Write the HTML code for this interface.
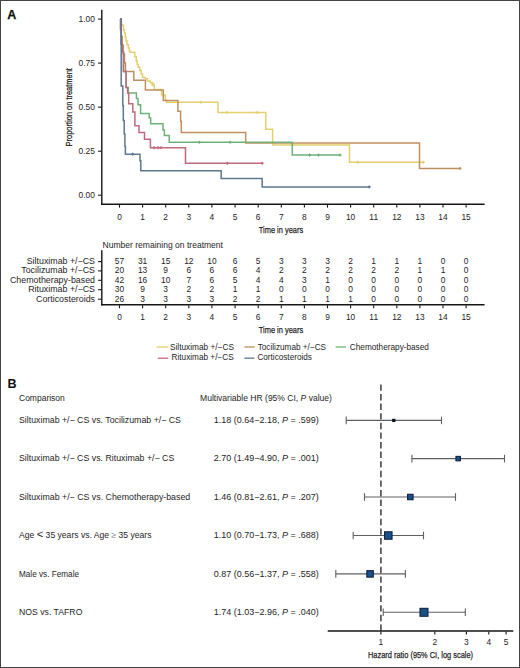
<!DOCTYPE html>
<html><head><meta charset="utf-8"><title>Figure</title>
<style>
html,body{margin:0;padding:0;background:#fff;}
body{width:520px;height:668px;overflow:hidden;position:relative;}
.frame{position:absolute;left:0;top:0;width:518px;height:666px;border:1px solid #444;}
svg{position:absolute;left:0;top:0;}
text{font-family:"Liberation Sans", sans-serif;}
</style></head><body>
<div class="frame"></div>
<svg width="520" height="668" viewBox="0 0 520 668" font-family='"Liberation Sans", sans-serif'>
<text x="7.2" y="18.5" font-size="13.4" font-weight="bold" fill="#111" stroke="#111" stroke-width="0.25" textLength="9.0" lengthAdjust="spacingAndGlyphs">A</text>
<line x1="101.8" y1="9.8" x2="101.8" y2="204.9" stroke="#161616" stroke-width="1.4"/>
<line x1="101.1" y1="204.15" x2="484.6" y2="204.15" stroke="#161616" stroke-width="1.5"/>
<line x1="98.1" y1="19.1" x2="101.5" y2="19.1" stroke="#161616" stroke-width="1.1"/>
<text x="94.8" y="22.1" font-size="8.4" text-anchor="end" fill="#1e1e1e">1.00</text>
<line x1="98.1" y1="63.1" x2="101.5" y2="63.1" stroke="#161616" stroke-width="1.1"/>
<text x="94.8" y="66.1" font-size="8.4" text-anchor="end" fill="#1e1e1e">0.75</text>
<line x1="98.1" y1="107.15" x2="101.5" y2="107.15" stroke="#161616" stroke-width="1.1"/>
<text x="94.8" y="110.2" font-size="8.4" text-anchor="end" fill="#1e1e1e">0.50</text>
<line x1="98.1" y1="151.2" x2="101.5" y2="151.2" stroke="#161616" stroke-width="1.1"/>
<text x="94.8" y="154.2" font-size="8.4" text-anchor="end" fill="#1e1e1e">0.25</text>
<line x1="98.1" y1="195.2" x2="101.5" y2="195.2" stroke="#161616" stroke-width="1.1"/>
<text x="94.8" y="198.2" font-size="8.4" text-anchor="end" fill="#1e1e1e">0.00</text>
<line x1="119.5" y1="204.5" x2="119.5" y2="207.6" stroke="#161616" stroke-width="1.1"/>
<text x="119.5" y="219.6" font-size="8.4" text-anchor="middle" fill="#1e1e1e">0</text>
<line x1="142.6" y1="204.5" x2="142.6" y2="207.6" stroke="#161616" stroke-width="1.1"/>
<text x="142.6" y="219.6" font-size="8.4" text-anchor="middle" fill="#1e1e1e">1</text>
<line x1="165.7" y1="204.5" x2="165.7" y2="207.6" stroke="#161616" stroke-width="1.1"/>
<text x="165.7" y="219.6" font-size="8.4" text-anchor="middle" fill="#1e1e1e">2</text>
<line x1="188.8" y1="204.5" x2="188.8" y2="207.6" stroke="#161616" stroke-width="1.1"/>
<text x="188.8" y="219.6" font-size="8.4" text-anchor="middle" fill="#1e1e1e">3</text>
<line x1="211.9" y1="204.5" x2="211.9" y2="207.6" stroke="#161616" stroke-width="1.1"/>
<text x="211.9" y="219.6" font-size="8.4" text-anchor="middle" fill="#1e1e1e">4</text>
<line x1="235.1" y1="204.5" x2="235.1" y2="207.6" stroke="#161616" stroke-width="1.1"/>
<text x="235.1" y="219.6" font-size="8.4" text-anchor="middle" fill="#1e1e1e">5</text>
<line x1="258.2" y1="204.5" x2="258.2" y2="207.6" stroke="#161616" stroke-width="1.1"/>
<text x="258.2" y="219.6" font-size="8.4" text-anchor="middle" fill="#1e1e1e">6</text>
<line x1="281.3" y1="204.5" x2="281.3" y2="207.6" stroke="#161616" stroke-width="1.1"/>
<text x="281.3" y="219.6" font-size="8.4" text-anchor="middle" fill="#1e1e1e">7</text>
<line x1="304.4" y1="204.5" x2="304.4" y2="207.6" stroke="#161616" stroke-width="1.1"/>
<text x="304.4" y="219.6" font-size="8.4" text-anchor="middle" fill="#1e1e1e">8</text>
<line x1="327.5" y1="204.5" x2="327.5" y2="207.6" stroke="#161616" stroke-width="1.1"/>
<text x="327.5" y="219.6" font-size="8.4" text-anchor="middle" fill="#1e1e1e">9</text>
<line x1="350.6" y1="204.5" x2="350.6" y2="207.6" stroke="#161616" stroke-width="1.1"/>
<text x="350.6" y="219.6" font-size="8.4" text-anchor="middle" fill="#1e1e1e">10</text>
<line x1="373.7" y1="204.5" x2="373.7" y2="207.6" stroke="#161616" stroke-width="1.1"/>
<text x="373.7" y="219.6" font-size="8.4" text-anchor="middle" fill="#1e1e1e">11</text>
<line x1="396.8" y1="204.5" x2="396.8" y2="207.6" stroke="#161616" stroke-width="1.1"/>
<text x="396.8" y="219.6" font-size="8.4" text-anchor="middle" fill="#1e1e1e">12</text>
<line x1="419.9" y1="204.5" x2="419.9" y2="207.6" stroke="#161616" stroke-width="1.1"/>
<text x="419.9" y="219.6" font-size="8.4" text-anchor="middle" fill="#1e1e1e">13</text>
<line x1="443.0" y1="204.5" x2="443.0" y2="207.6" stroke="#161616" stroke-width="1.1"/>
<text x="443.0" y="219.6" font-size="8.4" text-anchor="middle" fill="#1e1e1e">14</text>
<line x1="466.1" y1="204.5" x2="466.1" y2="207.6" stroke="#161616" stroke-width="1.1"/>
<text x="466.1" y="219.6" font-size="8.4" text-anchor="middle" fill="#1e1e1e">15</text>
<text x="258.8" y="232.7" font-size="9.8" textLength="44.3" lengthAdjust="spacingAndGlyphs" fill="#1e1e1e" stroke="#1e1e1e" stroke-width="0.25">Time in years</text>
<text transform="translate(71.8,146.4) rotate(-90)" x="0" y="0" font-size="9.8" textLength="78.3" lengthAdjust="spacingAndGlyphs" fill="#1e1e1e" stroke="#1e1e1e" stroke-width="0.25">Proportion on treatment</text>
<path d="M120,19.1H120.8V21H121.5V24.8H122.7V25.5H123.6V30H124.4V33H125.2V37H126V41H127V44.8H128.3V48H129.3V51H130.2V52.3H134.8V56.5H136.2V61H137.2V64.5H138.2V67.2H139.7V70.5H141.2V74H142.6V77.5H145.5V78.7H147.5V81H150.4V82.8H152.7V84.6H154.2V89.6H161.5V94.9H165.4V100H166.5V102.3H218V112.5H265.7V129.2H272.6V145H349.5V162.3H423.4" fill="none" stroke="#e2d06e" stroke-width="1.5"/>
<path d="M120,19.1H120.6V27.4H121.3V36.3H122.3V45.1H123.3V53.9H124.5V62.8H125.5V71.4H133.8V80.3H145.4V90.1H163.3V100.4H177.9V111.2H180.6V121.3H181.3V132.6H245.7V142.9H419.5V168.5H460" fill="none" stroke="#bf8f60" stroke-width="1.5"/>
<path d="M120,19.1H120.6V30H121.2V44H122.2V52H123.5V71.5H126.1V87.4H128.3V93H136.4V98.4H138V104.7H140.6V113.6H149.2V118H150.7V123.7H163V130H164.4V135.5H169.2V142.3H292.3V155.1H340" fill="none" stroke="#6db378" stroke-width="1.5"/>
<path d="M120,19.1H120.6V30H121.2V44H122.2V52H123.5V71.5H126.1V87.4H127.6V93H128.7V103.8H132.8V112H134.9V125.8H139V132.5H144.5V139.3H150.4V147.7H185.5V163.3H262.2" fill="none" stroke="#c06a80" stroke-width="1.5"/>
<path d="M120,19.1H121.2V86H122.8V105.7H123.3V120.4H124.2V134H124.9V146.6H125.4V154.2H140V160.8H140.8V170.8H221.2V178.5H262.2V186.9H369.2" fill="none" stroke="#5f7892" stroke-width="1.5"/>
<line x1="152.7" y1="83.0" x2="152.7" y2="86.19999999999999" stroke="#e2d06e" stroke-width="1"/>
<line x1="151.29999999999998" y1="84.6" x2="154.1" y2="84.6" stroke="#e2d06e" stroke-width="1.6"/>
<line x1="200.8" y1="100.7" x2="200.8" y2="103.89999999999999" stroke="#e2d06e" stroke-width="1"/>
<line x1="199.4" y1="102.3" x2="202.20000000000002" y2="102.3" stroke="#e2d06e" stroke-width="1.6"/>
<line x1="227" y1="110.9" x2="227" y2="114.1" stroke="#e2d06e" stroke-width="1"/>
<line x1="225.6" y1="112.5" x2="228.4" y2="112.5" stroke="#e2d06e" stroke-width="1.6"/>
<line x1="257" y1="110.9" x2="257" y2="114.1" stroke="#e2d06e" stroke-width="1"/>
<line x1="255.6" y1="112.5" x2="258.4" y2="112.5" stroke="#e2d06e" stroke-width="1.6"/>
<line x1="357.7" y1="160.70000000000002" x2="357.7" y2="163.9" stroke="#e2d06e" stroke-width="1"/>
<line x1="356.3" y1="162.3" x2="359.09999999999997" y2="162.3" stroke="#e2d06e" stroke-width="1.6"/>
<line x1="423.4" y1="160.70000000000002" x2="423.4" y2="163.9" stroke="#e2d06e" stroke-width="1"/>
<line x1="422.0" y1="162.3" x2="424.79999999999995" y2="162.3" stroke="#e2d06e" stroke-width="1.6"/>
<line x1="199.2" y1="140.70000000000002" x2="199.2" y2="143.9" stroke="#6db378" stroke-width="1"/>
<line x1="197.79999999999998" y1="142.3" x2="200.6" y2="142.3" stroke="#6db378" stroke-width="1.6"/>
<line x1="230" y1="140.70000000000002" x2="230" y2="143.9" stroke="#6db378" stroke-width="1"/>
<line x1="228.6" y1="142.3" x2="231.4" y2="142.3" stroke="#6db378" stroke-width="1.6"/>
<line x1="309.5" y1="153.5" x2="309.5" y2="156.7" stroke="#6db378" stroke-width="1"/>
<line x1="308.1" y1="155.1" x2="310.9" y2="155.1" stroke="#6db378" stroke-width="1.6"/>
<line x1="318.5" y1="153.5" x2="318.5" y2="156.7" stroke="#6db378" stroke-width="1"/>
<line x1="317.1" y1="155.1" x2="319.9" y2="155.1" stroke="#6db378" stroke-width="1.6"/>
<line x1="340" y1="153.5" x2="340" y2="156.7" stroke="#6db378" stroke-width="1"/>
<line x1="338.6" y1="155.1" x2="341.4" y2="155.1" stroke="#6db378" stroke-width="1.6"/>
<line x1="154.2" y1="146.1" x2="154.2" y2="149.29999999999998" stroke="#c06a80" stroke-width="1"/>
<line x1="152.79999999999998" y1="147.7" x2="155.6" y2="147.7" stroke="#c06a80" stroke-width="1.6"/>
<line x1="158" y1="146.1" x2="158" y2="149.29999999999998" stroke="#c06a80" stroke-width="1"/>
<line x1="156.6" y1="147.7" x2="159.4" y2="147.7" stroke="#c06a80" stroke-width="1.6"/>
<line x1="161" y1="146.1" x2="161" y2="149.29999999999998" stroke="#c06a80" stroke-width="1"/>
<line x1="159.6" y1="147.7" x2="162.4" y2="147.7" stroke="#c06a80" stroke-width="1.6"/>
<line x1="227.3" y1="161.70000000000002" x2="227.3" y2="164.9" stroke="#c06a80" stroke-width="1"/>
<line x1="225.9" y1="163.3" x2="228.70000000000002" y2="163.3" stroke="#c06a80" stroke-width="1.6"/>
<line x1="262.2" y1="161.70000000000002" x2="262.2" y2="164.9" stroke="#c06a80" stroke-width="1"/>
<line x1="260.8" y1="163.3" x2="263.59999999999997" y2="163.3" stroke="#c06a80" stroke-width="1.6"/>
<line x1="132.7" y1="152.6" x2="132.7" y2="155.79999999999998" stroke="#5f7892" stroke-width="1"/>
<line x1="131.29999999999998" y1="154.2" x2="134.1" y2="154.2" stroke="#5f7892" stroke-width="1.6"/>
<line x1="369.2" y1="185.3" x2="369.2" y2="188.5" stroke="#5f7892" stroke-width="1"/>
<line x1="367.8" y1="186.9" x2="370.59999999999997" y2="186.9" stroke="#5f7892" stroke-width="1.6"/>
<line x1="460" y1="166.9" x2="460" y2="170.1" stroke="#bf8f60" stroke-width="1"/>
<line x1="458.6" y1="168.5" x2="461.4" y2="168.5" stroke="#bf8f60" stroke-width="1.6"/>
<text x="102.5" y="247.7" font-size="8.5" textLength="120.5" lengthAdjust="spacingAndGlyphs" fill="#1e1e1e">Number remaining on treatment</text>
<line x1="101.8" y1="250.2" x2="101.8" y2="305.4" stroke="#161616" stroke-width="1.4"/>
<line x1="101.1" y1="304.7" x2="484.6" y2="304.7" stroke="#161616" stroke-width="1.5"/>
<text x="95" y="264.0" font-size="8.85" text-anchor="end" fill="#1e1e1e">Siltuximab +/−CS</text>
<line x1="98.1" y1="261.6" x2="101.5" y2="261.6" stroke="#161616" stroke-width="1.1"/>
<text x="119.5" y="264.0" font-size="8.4" text-anchor="middle" fill="#1e1e1e">57</text>
<text x="142.6" y="264.0" font-size="8.4" text-anchor="middle" fill="#1e1e1e">31</text>
<text x="165.7" y="264.0" font-size="8.4" text-anchor="middle" fill="#1e1e1e">15</text>
<text x="188.8" y="264.0" font-size="8.4" text-anchor="middle" fill="#1e1e1e">12</text>
<text x="211.9" y="264.0" font-size="8.4" text-anchor="middle" fill="#1e1e1e">10</text>
<text x="235.1" y="264.0" font-size="8.4" text-anchor="middle" fill="#1e1e1e">6</text>
<text x="258.2" y="264.0" font-size="8.4" text-anchor="middle" fill="#1e1e1e">5</text>
<text x="281.3" y="264.0" font-size="8.4" text-anchor="middle" fill="#1e1e1e">3</text>
<text x="304.4" y="264.0" font-size="8.4" text-anchor="middle" fill="#1e1e1e">3</text>
<text x="327.5" y="264.0" font-size="8.4" text-anchor="middle" fill="#1e1e1e">3</text>
<text x="350.6" y="264.0" font-size="8.4" text-anchor="middle" fill="#1e1e1e">2</text>
<text x="373.7" y="264.0" font-size="8.4" text-anchor="middle" fill="#1e1e1e">1</text>
<text x="396.8" y="264.0" font-size="8.4" text-anchor="middle" fill="#1e1e1e">1</text>
<text x="419.9" y="264.0" font-size="8.4" text-anchor="middle" fill="#1e1e1e">1</text>
<text x="443.0" y="264.0" font-size="8.4" text-anchor="middle" fill="#1e1e1e">0</text>
<text x="466.1" y="264.0" font-size="8.4" text-anchor="middle" fill="#1e1e1e">0</text>
<text x="95" y="273.3" font-size="8.85" text-anchor="end" fill="#1e1e1e">Tocilizumab +/−CS</text>
<line x1="98.1" y1="270.9" x2="101.5" y2="270.9" stroke="#161616" stroke-width="1.1"/>
<text x="119.5" y="273.3" font-size="8.4" text-anchor="middle" fill="#1e1e1e">20</text>
<text x="142.6" y="273.3" font-size="8.4" text-anchor="middle" fill="#1e1e1e">13</text>
<text x="165.7" y="273.3" font-size="8.4" text-anchor="middle" fill="#1e1e1e">9</text>
<text x="188.8" y="273.3" font-size="8.4" text-anchor="middle" fill="#1e1e1e">6</text>
<text x="211.9" y="273.3" font-size="8.4" text-anchor="middle" fill="#1e1e1e">6</text>
<text x="235.1" y="273.3" font-size="8.4" text-anchor="middle" fill="#1e1e1e">6</text>
<text x="258.2" y="273.3" font-size="8.4" text-anchor="middle" fill="#1e1e1e">4</text>
<text x="281.3" y="273.3" font-size="8.4" text-anchor="middle" fill="#1e1e1e">2</text>
<text x="304.4" y="273.3" font-size="8.4" text-anchor="middle" fill="#1e1e1e">2</text>
<text x="327.5" y="273.3" font-size="8.4" text-anchor="middle" fill="#1e1e1e">2</text>
<text x="350.6" y="273.3" font-size="8.4" text-anchor="middle" fill="#1e1e1e">2</text>
<text x="373.7" y="273.3" font-size="8.4" text-anchor="middle" fill="#1e1e1e">2</text>
<text x="396.8" y="273.3" font-size="8.4" text-anchor="middle" fill="#1e1e1e">2</text>
<text x="419.9" y="273.3" font-size="8.4" text-anchor="middle" fill="#1e1e1e">1</text>
<text x="443.0" y="273.3" font-size="8.4" text-anchor="middle" fill="#1e1e1e">1</text>
<text x="466.1" y="273.3" font-size="8.4" text-anchor="middle" fill="#1e1e1e">0</text>
<text x="95" y="282.7" font-size="8.85" text-anchor="end" fill="#1e1e1e">Chemotherapy-based</text>
<line x1="98.1" y1="280.3" x2="101.5" y2="280.3" stroke="#161616" stroke-width="1.1"/>
<text x="119.5" y="282.7" font-size="8.4" text-anchor="middle" fill="#1e1e1e">42</text>
<text x="142.6" y="282.7" font-size="8.4" text-anchor="middle" fill="#1e1e1e">16</text>
<text x="165.7" y="282.7" font-size="8.4" text-anchor="middle" fill="#1e1e1e">10</text>
<text x="188.8" y="282.7" font-size="8.4" text-anchor="middle" fill="#1e1e1e">7</text>
<text x="211.9" y="282.7" font-size="8.4" text-anchor="middle" fill="#1e1e1e">6</text>
<text x="235.1" y="282.7" font-size="8.4" text-anchor="middle" fill="#1e1e1e">5</text>
<text x="258.2" y="282.7" font-size="8.4" text-anchor="middle" fill="#1e1e1e">4</text>
<text x="281.3" y="282.7" font-size="8.4" text-anchor="middle" fill="#1e1e1e">4</text>
<text x="304.4" y="282.7" font-size="8.4" text-anchor="middle" fill="#1e1e1e">3</text>
<text x="327.5" y="282.7" font-size="8.4" text-anchor="middle" fill="#1e1e1e">1</text>
<text x="350.6" y="282.7" font-size="8.4" text-anchor="middle" fill="#1e1e1e">0</text>
<text x="373.7" y="282.7" font-size="8.4" text-anchor="middle" fill="#1e1e1e">0</text>
<text x="396.8" y="282.7" font-size="8.4" text-anchor="middle" fill="#1e1e1e">0</text>
<text x="419.9" y="282.7" font-size="8.4" text-anchor="middle" fill="#1e1e1e">0</text>
<text x="443.0" y="282.7" font-size="8.4" text-anchor="middle" fill="#1e1e1e">0</text>
<text x="466.1" y="282.7" font-size="8.4" text-anchor="middle" fill="#1e1e1e">0</text>
<text x="95" y="292.1" font-size="8.85" text-anchor="end" fill="#1e1e1e">Rituximab +/−CS</text>
<line x1="98.1" y1="289.7" x2="101.5" y2="289.7" stroke="#161616" stroke-width="1.1"/>
<text x="119.5" y="292.1" font-size="8.4" text-anchor="middle" fill="#1e1e1e">30</text>
<text x="142.6" y="292.1" font-size="8.4" text-anchor="middle" fill="#1e1e1e">9</text>
<text x="165.7" y="292.1" font-size="8.4" text-anchor="middle" fill="#1e1e1e">3</text>
<text x="188.8" y="292.1" font-size="8.4" text-anchor="middle" fill="#1e1e1e">2</text>
<text x="211.9" y="292.1" font-size="8.4" text-anchor="middle" fill="#1e1e1e">2</text>
<text x="235.1" y="292.1" font-size="8.4" text-anchor="middle" fill="#1e1e1e">1</text>
<text x="258.2" y="292.1" font-size="8.4" text-anchor="middle" fill="#1e1e1e">1</text>
<text x="281.3" y="292.1" font-size="8.4" text-anchor="middle" fill="#1e1e1e">0</text>
<text x="304.4" y="292.1" font-size="8.4" text-anchor="middle" fill="#1e1e1e">0</text>
<text x="327.5" y="292.1" font-size="8.4" text-anchor="middle" fill="#1e1e1e">0</text>
<text x="350.6" y="292.1" font-size="8.4" text-anchor="middle" fill="#1e1e1e">0</text>
<text x="373.7" y="292.1" font-size="8.4" text-anchor="middle" fill="#1e1e1e">0</text>
<text x="396.8" y="292.1" font-size="8.4" text-anchor="middle" fill="#1e1e1e">0</text>
<text x="419.9" y="292.1" font-size="8.4" text-anchor="middle" fill="#1e1e1e">0</text>
<text x="443.0" y="292.1" font-size="8.4" text-anchor="middle" fill="#1e1e1e">0</text>
<text x="466.1" y="292.1" font-size="8.4" text-anchor="middle" fill="#1e1e1e">0</text>
<text x="95" y="301.6" font-size="8.85" text-anchor="end" fill="#1e1e1e">Corticosteroids</text>
<line x1="98.1" y1="299.2" x2="101.5" y2="299.2" stroke="#161616" stroke-width="1.1"/>
<text x="119.5" y="301.6" font-size="8.4" text-anchor="middle" fill="#1e1e1e">26</text>
<text x="142.6" y="301.6" font-size="8.4" text-anchor="middle" fill="#1e1e1e">3</text>
<text x="165.7" y="301.6" font-size="8.4" text-anchor="middle" fill="#1e1e1e">3</text>
<text x="188.8" y="301.6" font-size="8.4" text-anchor="middle" fill="#1e1e1e">3</text>
<text x="211.9" y="301.6" font-size="8.4" text-anchor="middle" fill="#1e1e1e">3</text>
<text x="235.1" y="301.6" font-size="8.4" text-anchor="middle" fill="#1e1e1e">2</text>
<text x="258.2" y="301.6" font-size="8.4" text-anchor="middle" fill="#1e1e1e">2</text>
<text x="281.3" y="301.6" font-size="8.4" text-anchor="middle" fill="#1e1e1e">1</text>
<text x="304.4" y="301.6" font-size="8.4" text-anchor="middle" fill="#1e1e1e">1</text>
<text x="327.5" y="301.6" font-size="8.4" text-anchor="middle" fill="#1e1e1e">1</text>
<text x="350.6" y="301.6" font-size="8.4" text-anchor="middle" fill="#1e1e1e">1</text>
<text x="373.7" y="301.6" font-size="8.4" text-anchor="middle" fill="#1e1e1e">0</text>
<text x="396.8" y="301.6" font-size="8.4" text-anchor="middle" fill="#1e1e1e">0</text>
<text x="419.9" y="301.6" font-size="8.4" text-anchor="middle" fill="#1e1e1e">0</text>
<text x="443.0" y="301.6" font-size="8.4" text-anchor="middle" fill="#1e1e1e">0</text>
<text x="466.1" y="301.6" font-size="8.4" text-anchor="middle" fill="#1e1e1e">0</text>
<line x1="119.5" y1="305.2" x2="119.5" y2="308.2" stroke="#161616" stroke-width="1.1"/>
<text x="119.5" y="320.3" font-size="8.4" text-anchor="middle" fill="#1e1e1e">0</text>
<line x1="142.6" y1="305.2" x2="142.6" y2="308.2" stroke="#161616" stroke-width="1.1"/>
<text x="142.6" y="320.3" font-size="8.4" text-anchor="middle" fill="#1e1e1e">1</text>
<line x1="165.7" y1="305.2" x2="165.7" y2="308.2" stroke="#161616" stroke-width="1.1"/>
<text x="165.7" y="320.3" font-size="8.4" text-anchor="middle" fill="#1e1e1e">2</text>
<line x1="188.8" y1="305.2" x2="188.8" y2="308.2" stroke="#161616" stroke-width="1.1"/>
<text x="188.8" y="320.3" font-size="8.4" text-anchor="middle" fill="#1e1e1e">3</text>
<line x1="211.9" y1="305.2" x2="211.9" y2="308.2" stroke="#161616" stroke-width="1.1"/>
<text x="211.9" y="320.3" font-size="8.4" text-anchor="middle" fill="#1e1e1e">4</text>
<line x1="235.1" y1="305.2" x2="235.1" y2="308.2" stroke="#161616" stroke-width="1.1"/>
<text x="235.1" y="320.3" font-size="8.4" text-anchor="middle" fill="#1e1e1e">5</text>
<line x1="258.2" y1="305.2" x2="258.2" y2="308.2" stroke="#161616" stroke-width="1.1"/>
<text x="258.2" y="320.3" font-size="8.4" text-anchor="middle" fill="#1e1e1e">6</text>
<line x1="281.3" y1="305.2" x2="281.3" y2="308.2" stroke="#161616" stroke-width="1.1"/>
<text x="281.3" y="320.3" font-size="8.4" text-anchor="middle" fill="#1e1e1e">7</text>
<line x1="304.4" y1="305.2" x2="304.4" y2="308.2" stroke="#161616" stroke-width="1.1"/>
<text x="304.4" y="320.3" font-size="8.4" text-anchor="middle" fill="#1e1e1e">8</text>
<line x1="327.5" y1="305.2" x2="327.5" y2="308.2" stroke="#161616" stroke-width="1.1"/>
<text x="327.5" y="320.3" font-size="8.4" text-anchor="middle" fill="#1e1e1e">9</text>
<line x1="350.6" y1="305.2" x2="350.6" y2="308.2" stroke="#161616" stroke-width="1.1"/>
<text x="350.6" y="320.3" font-size="8.4" text-anchor="middle" fill="#1e1e1e">10</text>
<line x1="373.7" y1="305.2" x2="373.7" y2="308.2" stroke="#161616" stroke-width="1.1"/>
<text x="373.7" y="320.3" font-size="8.4" text-anchor="middle" fill="#1e1e1e">11</text>
<line x1="396.8" y1="305.2" x2="396.8" y2="308.2" stroke="#161616" stroke-width="1.1"/>
<text x="396.8" y="320.3" font-size="8.4" text-anchor="middle" fill="#1e1e1e">12</text>
<line x1="419.9" y1="305.2" x2="419.9" y2="308.2" stroke="#161616" stroke-width="1.1"/>
<text x="419.9" y="320.3" font-size="8.4" text-anchor="middle" fill="#1e1e1e">13</text>
<line x1="443.0" y1="305.2" x2="443.0" y2="308.2" stroke="#161616" stroke-width="1.1"/>
<text x="443.0" y="320.3" font-size="8.4" text-anchor="middle" fill="#1e1e1e">14</text>
<line x1="466.1" y1="305.2" x2="466.1" y2="308.2" stroke="#161616" stroke-width="1.1"/>
<text x="466.1" y="320.3" font-size="8.4" text-anchor="middle" fill="#1e1e1e">15</text>
<text x="258.8" y="333.4" font-size="9.8" textLength="44.3" lengthAdjust="spacingAndGlyphs" fill="#1e1e1e" stroke="#1e1e1e" stroke-width="0.25">Time in years</text>
<line x1="156.6" y1="347.0" x2="168.4" y2="347.0" stroke="#e2d06e" stroke-width="1.3"/>
<text x="170.0" y="349.9" font-size="8.2" textLength="64.0" lengthAdjust="spacingAndGlyphs" fill="#1e1e1e">Siltuximab +/−CS</text>
<line x1="244.4" y1="347.0" x2="254.8" y2="347.0" stroke="#bf8f60" stroke-width="1.3"/>
<text x="257.7" y="349.9" font-size="8.2" textLength="68.4" lengthAdjust="spacingAndGlyphs" fill="#1e1e1e">Tocilizumab +/−CS</text>
<line x1="335.6" y1="347.0" x2="345.9" y2="347.0" stroke="#6db378" stroke-width="1.3"/>
<text x="349.8" y="349.9" font-size="8.2" textLength="79.1" lengthAdjust="spacingAndGlyphs" fill="#1e1e1e">Chemotherapy-based</text>
<line x1="157.8" y1="358.2" x2="168.2" y2="358.2" stroke="#c06a80" stroke-width="1.3"/>
<text x="171.5" y="360.1" font-size="8.2" textLength="62.2" lengthAdjust="spacingAndGlyphs" fill="#1e1e1e">Rituximab +/−CS</text>
<line x1="244.4" y1="358.2" x2="254.4" y2="358.2" stroke="#5f7892" stroke-width="1.3"/>
<text x="257.4" y="360.1" font-size="8.2" textLength="54.5" lengthAdjust="spacingAndGlyphs" fill="#1e1e1e">Corticosteroids</text>
<text x="7.4" y="387.6" font-size="12.6" font-weight="bold" fill="#111">B</text>
<text x="19.0" y="400.6" font-size="8.5" textLength="45.8" lengthAdjust="spacingAndGlyphs" fill="#1e1e1e">Comparison</text>
<text x="200.1" y="400.6" font-size="8.5" textLength="131.8" lengthAdjust="spacingAndGlyphs" fill="#1e1e1e">Multivariable HR (95% CI, <tspan font-style="italic">P</tspan> value)</text>
<line x1="380.9" y1="384.4" x2="380.9" y2="631" stroke="#5c5c5c" stroke-width="1.8" stroke-dasharray="6.4 3.2"/>
<text x="19.0" y="423.2" font-size="8.8" textLength="162.0" lengthAdjust="spacingAndGlyphs" fill="#1e1e1e">Siltuximab +/− CS vs. Tocilizumab +/− CS</text>
<text x="213.8" y="423.0" font-size="8.8" textLength="105.0" lengthAdjust="spacingAndGlyphs" fill="#1e1e1e">1.18 (0.64−2.18, <tspan font-style="italic">P</tspan> = .599)</text>
<line x1="346.2" y1="420.4" x2="441.5" y2="420.4" stroke="#606060" stroke-width="1.1"/>
<line x1="346.2" y1="416.59999999999997" x2="346.2" y2="424.2" stroke="#606060" stroke-width="1.1"/>
<line x1="441.5" y1="416.59999999999997" x2="441.5" y2="424.2" stroke="#606060" stroke-width="1.1"/>
<rect x="392.13" y="418.75" width="3.3" height="3.3" fill="#0d1520"/>
<text x="19.0" y="461.4" font-size="8.8" textLength="155.3" lengthAdjust="spacingAndGlyphs" fill="#1e1e1e">Siltuximab +/− CS vs. Rituximab +/− CS</text>
<text x="213.8" y="461.2" font-size="8.8" textLength="105.0" lengthAdjust="spacingAndGlyphs" fill="#1e1e1e">2.70 (1.49−4.90, <tspan font-style="italic">P</tspan> = .001)</text>
<line x1="411.9" y1="458.6" x2="504.5" y2="458.6" stroke="#606060" stroke-width="1.1"/>
<line x1="411.9" y1="454.8" x2="411.9" y2="462.40000000000003" stroke="#606060" stroke-width="1.1"/>
<line x1="504.5" y1="454.8" x2="504.5" y2="462.40000000000003" stroke="#606060" stroke-width="1.1"/>
<rect x="455.92" y="456.35" width="4.5" height="4.5" fill="#1a4f88" stroke="#0b1d36" stroke-width="1"/>
<text x="19.0" y="499.8" font-size="8.8" textLength="171.2" lengthAdjust="spacingAndGlyphs" fill="#1e1e1e">Siltuximab +/− CS vs. Chemotherapy-based</text>
<text x="213.8" y="499.6" font-size="8.8" textLength="105.0" lengthAdjust="spacingAndGlyphs" fill="#1e1e1e">1.46 (0.81−2.61, <tspan font-style="italic">P</tspan> = .207)</text>
<line x1="364.5" y1="497.0" x2="455.5" y2="497.0" stroke="#606060" stroke-width="1.1"/>
<line x1="364.5" y1="493.2" x2="364.5" y2="500.8" stroke="#606060" stroke-width="1.1"/>
<line x1="455.5" y1="493.2" x2="455.5" y2="500.8" stroke="#606060" stroke-width="1.1"/>
<rect x="407.59" y="494.25" width="5.5" height="5.5" fill="#1a4f88" stroke="#0b1d36" stroke-width="1"/>
<text x="19.0" y="538.3" font-size="8.8" textLength="132.5" lengthAdjust="spacingAndGlyphs" fill="#1e1e1e">Age <tspan font-size="11.5">&lt;</tspan> 35 years vs. Age <tspan fill="#8a8a8a">≥</tspan> 35 years</text>
<text x="213.8" y="538.1" font-size="8.8" textLength="105.0" lengthAdjust="spacingAndGlyphs" fill="#1e1e1e">1.10 (0.70−1.73, <tspan font-style="italic">P</tspan> = .688)</text>
<line x1="353.2" y1="535.5" x2="423.5" y2="535.5" stroke="#606060" stroke-width="1.1"/>
<line x1="353.2" y1="531.7" x2="353.2" y2="539.3" stroke="#606060" stroke-width="1.1"/>
<line x1="423.5" y1="531.7" x2="423.5" y2="539.3" stroke="#606060" stroke-width="1.1"/>
<rect x="384.57" y="531.75" width="7.5" height="7.5" fill="#1a4f88" stroke="#0b1d36" stroke-width="1"/>
<text x="19.0" y="576.7" font-size="8.8" textLength="60.0" lengthAdjust="spacingAndGlyphs" fill="#1e1e1e">Male vs. Female</text>
<text x="213.8" y="576.5" font-size="8.8" textLength="105.0" lengthAdjust="spacingAndGlyphs" fill="#1e1e1e">0.87 (0.56−1.37, <tspan font-style="italic">P</tspan> = .558)</text>
<line x1="335.8" y1="573.9" x2="405.4" y2="573.9" stroke="#606060" stroke-width="1.1"/>
<line x1="335.8" y1="570.1" x2="335.8" y2="577.6999999999999" stroke="#606060" stroke-width="1.1"/>
<line x1="405.4" y1="570.1" x2="405.4" y2="577.6999999999999" stroke="#606060" stroke-width="1.1"/>
<rect x="366.82" y="570.65" width="6.5" height="6.5" fill="#1a4f88" stroke="#0b1d36" stroke-width="1"/>
<text x="19.0" y="615.1" font-size="8.8" textLength="63.4" lengthAdjust="spacingAndGlyphs" fill="#1e1e1e">NOS vs. TAFRO</text>
<text x="213.8" y="614.9" font-size="8.8" textLength="105.0" lengthAdjust="spacingAndGlyphs" fill="#1e1e1e">1.74 (1.03−2.96, <tspan font-style="italic">P</tspan> = .040)</text>
<line x1="383.2" y1="612.3" x2="465.3" y2="612.3" stroke="#606060" stroke-width="1.1"/>
<line x1="383.2" y1="608.5" x2="383.2" y2="616.0999999999999" stroke="#606060" stroke-width="1.1"/>
<line x1="465.3" y1="608.5" x2="465.3" y2="616.0999999999999" stroke="#606060" stroke-width="1.1"/>
<rect x="419.99" y="608.30" width="8.0" height="8.0" fill="#1a4f88" stroke="#0b1d36" stroke-width="1"/>
<line x1="327.7" y1="631.0" x2="513.3" y2="631.0" stroke="#161616" stroke-width="1.4"/>
<line x1="380.9" y1="631.5" x2="380.9" y2="634.5" stroke="#161616" stroke-width="1.1"/>
<text x="380.9" y="645.3" font-size="8.4" text-anchor="middle" fill="#1e1e1e">1</text>
<line x1="434.8" y1="631.5" x2="434.8" y2="634.5" stroke="#161616" stroke-width="1.1"/>
<text x="434.8" y="645.3" font-size="8.4" text-anchor="middle" fill="#1e1e1e">2</text>
<line x1="466.4" y1="631.5" x2="466.4" y2="634.5" stroke="#161616" stroke-width="1.1"/>
<text x="466.4" y="645.3" font-size="8.4" text-anchor="middle" fill="#1e1e1e">3</text>
<line x1="488.8" y1="631.5" x2="488.8" y2="634.5" stroke="#161616" stroke-width="1.1"/>
<text x="488.8" y="645.3" font-size="8.4" text-anchor="middle" fill="#1e1e1e">4</text>
<line x1="506.1" y1="631.5" x2="506.1" y2="634.5" stroke="#161616" stroke-width="1.1"/>
<text x="506.1" y="645.3" font-size="8.4" text-anchor="middle" fill="#1e1e1e">5</text>
<text x="368.0" y="657.8" font-size="9.6" textLength="105.0" lengthAdjust="spacingAndGlyphs" fill="#1e1e1e" stroke="#1e1e1e" stroke-width="0.25">Hazard ratio (95% CI, log scale)</text>
</svg>
</body></html>
